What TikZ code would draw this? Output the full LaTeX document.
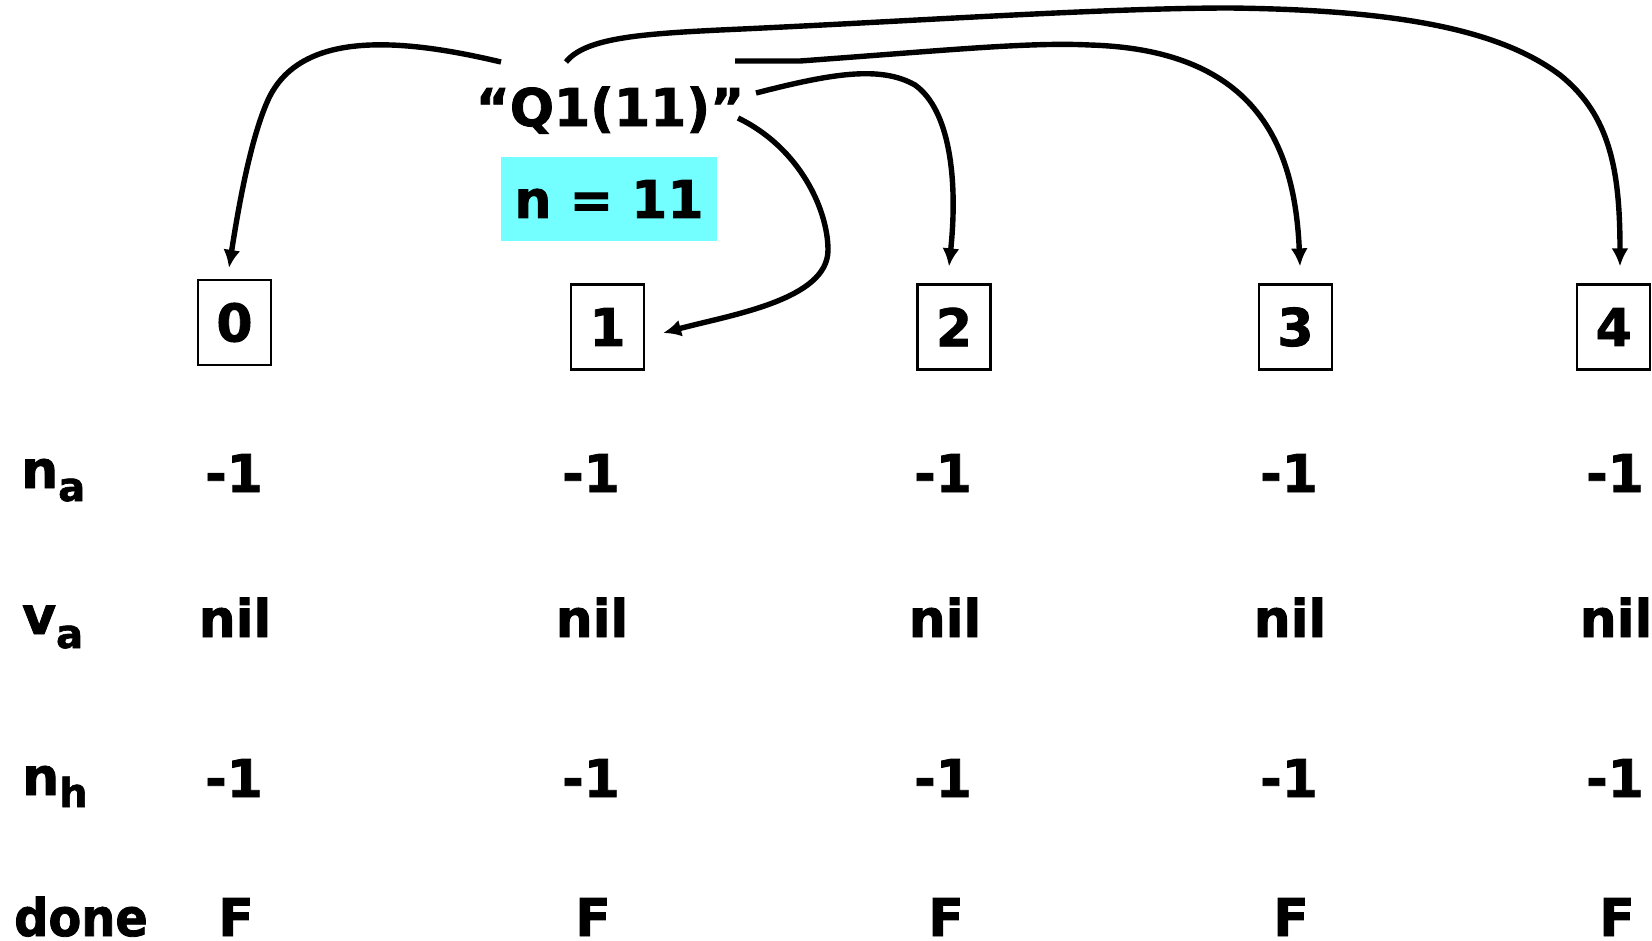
\documentclass[tikz,border=0pt]{standalone}
\usepackage{fontspec}
\setmainfont{DejaVu Sans}[BoldFeatures={FakeBold=1.6}]
\usetikzlibrary{arrows.meta,calc}
\definecolor{cyanbox}{RGB}{115,255,255}
\tikzset{
  bigtxt/.style={font=\fontsize{52}{60}\selectfont\bfseries, inner sep=0pt},
  cell/.style={bigtxt, anchor=base},
  rowlab/.style={bigtxt, anchor=base west},
  idxbox/.style={draw, line width=2.2pt, minimum width=73pt, minimum height=85pt, inner sep=0pt,
                 font=\fontsize{52}{60}\selectfont\bfseries},
  nbox/.style={fill=cyanbox, minimum width=216pt, minimum height=84pt, inner sep=0pt,
               font=\fontsize{52}{60}\selectfont\bfseries},
  link/.style={line width=5.4pt, -{Latex[length=18pt,width=17pt]}},
}
\newcommand\mysub[2]{\raisebox{-#1}{\fontsize{40}{40}\selectfont #2}}
\begin{document}
\begin{tikzpicture}[x=1pt,y=-1pt]
\useasboundingbox (0,0) rectangle (1652,940);
% index boxes
\node[idxbox] (b0) at (234.5,322.5) {0};
\node[idxbox] (b1) at (607.5,327) {1};
\node[idxbox] (b2) at (954,327) {2};
\node[idxbox] (b3) at (1295.5,327) {3};
\node[idxbox] (b4) at (1613.7,327) {4};
% title and n box
\node[cell] (q) at (610,126) {“Q1(11)”};
\node[nbox] (n) at (609,199) {n = 11};
% row labels
\node[rowlab] (lna) at (21,488) {n\mysub{13pt}{a}};
\node[rowlab] (lva) at (22,634) {v\mysub{14pt}{a}};
\node[rowlab] (lnh) at (22,795) {n\mysub{12pt}{h}};
\node[rowlab] (ldone) at (14,936) {\scalebox{0.92}[1]{done}};
% values
\foreach \x [count=\i] in {234,591,943,1289,1615} {
  \node[cell] (na\i) at (\x,492) {-1};
  \node[cell] (nh\i) at (\x,797) {-1};
}
\foreach \x [count=\i] in {235,592,945,1290,1616} {
  \node[cell] (va\i) at (\x,637) {nil};
}
\foreach \x [count=\i] in {236,593,946,1291,1617} {
  \node[cell] (dn\i) at (\x,936) {F};
}
% connector start points
\coordinate (s0) at (501,62);
\coordinate (s1) at (738,118);
\coordinate (s2) at (756,93);
\coordinate (s3) at (735,61);
\coordinate (s4) at (566,62);
% arrows
\draw[link] (s0) .. controls (400,38) and (300,30) .. (268,100)
   .. controls (250,140) and (238,210) .. ($(b0.north)+(-5.5,-11)$);
\draw[link] (s1) .. controls (800,148) and (828,210) .. (828,250)
   .. controls (828,300) and (730,315) .. ($(b1.east)+(18,6)$);
\draw[link] (s2) .. controls (830,74) and (880,65) .. (915,85)
   .. controls (950,110) and (958,180) .. ($(b2.north)+(-5,-17)$);
\draw[link] (s3) -- (800,61) .. controls (950,50) and (1030,42) .. (1090,45)
   .. controls (1260,50) and (1295,150) .. ($(b3.north)+(4.5,-17)$);
\draw[link] (s4) .. controls (585,38) and (640,34) .. (720,30)
   .. controls (900,22) and (1100,8) .. (1230,8)
   .. controls (1400,10) and (1500,30) .. (1560,75)
   .. controls (1610,115) and (1620,170) .. ($(b4.north)+(6.3,-17)$);
\end{tikzpicture}
\end{document}
